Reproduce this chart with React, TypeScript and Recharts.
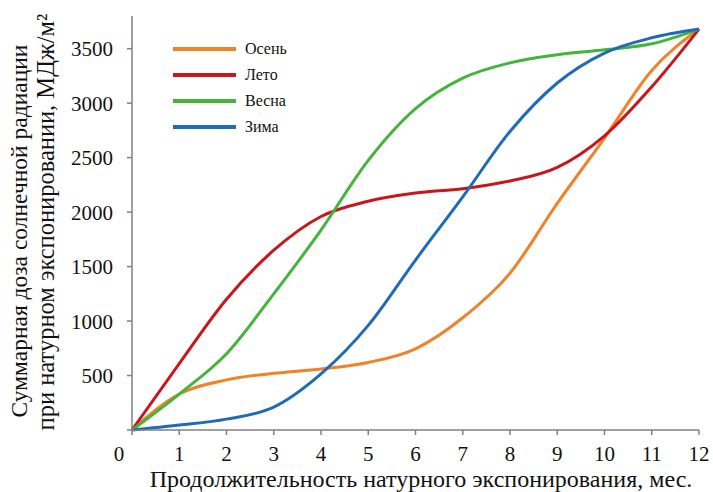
import React from 'react';
import { LineChart, Line, XAxis, YAxis, Legend } from 'recharts';

const months = [0, 1, 2, 3, 4, 5, 6, 7, 8, 9, 10, 11, 12];
const osen = [0, 330, 460, 520, 560, 620, 745, 1030, 1440, 2080, 2680, 3300, 3680];
const leto = [0, 610, 1200, 1650, 1960, 2100, 2175, 2215, 2285, 2410, 2700, 3150, 3680];
const vesna = [0, 330, 700, 1250, 1835, 2475, 2950, 3230, 3370, 3445, 3490, 3545, 3680];
const zima = [0, 45, 100, 210, 515, 960, 1560, 2140, 2740, 3185, 3460, 3600, 3680];

const xTicks = [0, 1, 2, 3, 4, 5, 6, 7, 8, 9, 10, 11, 12];
const yTicks = [0, 500, 1000, 1500, 2000, 2500, 3000, 3500];

const seriesNames = ['Осень', 'Лето', 'Весна', 'Зима'];
const seriesKeys = ['osen', 'leto', 'vesna', 'zima'];
const seriesColors = ['#F0822A', '#C8161D', '#45B43A', '#1E6BB8'];

const data = months.map((m, i) => ({
  m,
  osen: osen[i],
  leto: leto[i],
  vesna: vesna[i],
  zima: zima[i],
}));

const FONT = '"Times New Roman", "Liberation Serif", serif';
const AXIS = '#808080';

const XTick = (props: any) => {
  const { x, y, payload } = props;
  const v = payload.value;
  return (
    <text x={v === 0 ? x - 13 : x} y={y} dy="0.71em" textAnchor="middle" style={{ fontFamily: FONT }} fontSize={21} fill="#111">
      {v}
    </text>
  );
};

const YTick = (props: any) => {
  const { x, y, payload } = props;
  const v = payload.value;
  if (v === 0) return null;
  return (
    <text x={x} y={y} dy="0.355em" textAnchor="end" style={{ fontFamily: FONT }} fontSize={21} fill="#111">
      {v}
    </text>
  );
};

const YLabel = () => (
  <g style={{ fontFamily: FONT }} fill="#111">
    <text x={27} y={231} fontSize={23.5} transform="rotate(-90, 27, 231)" textAnchor="middle">
      Суммарная доза солнечной радиации
    </text>
    <text x={54} y={222} fontSize={24.5} transform="rotate(-90, 54, 222)" textAnchor="middle">
      при натурном экспонировании, МДж/м²
    </text>
  </g>
);

const XLabel = () => (
  <text x={421} y={487} textAnchor="middle" style={{ fontFamily: FONT }} fontSize={24} fill="#111">
    Продолжительность натурного экспонирования, мес.
  </text>
);

const LegendContent = () => (
  <div style={{ fontFamily: FONT, fontSize: 16, color: '#111' }}>
    {seriesNames.map((n, i) => (
      <div key={n} style={{ display: 'flex', alignItems: 'center', height: 26 }}>
        <div style={{ width: 63, height: 4, background: seriesColors[i], marginRight: 9 }} />
        <span>{n}</span>
      </div>
    ))}
  </div>
);

export default function App() {
  return (
    <div style={{ position: 'absolute', left: 0, top: 0, background: '#fff' }}>
      <LineChart width={713} height={492} data={data} margin={{ top: 16, right: 14, bottom: 22, left: 52 }}>
        <XAxis
          dataKey="m"
          type="number"
          domain={[0, 12]}
          ticks={xTicks}
          interval={0}
          height={40}
          stroke={AXIS}
          strokeWidth={1.5}
          tickSize={5}
          tickMargin={11}
          tick={<XTick />}
          label={<XLabel />}
        />
        <YAxis
          type="number"
          domain={[0, 3800]}
          ticks={yTicks}
          interval={0}
          width={80}
          stroke={AXIS}
          strokeWidth={1.5}
          tickSize={5}
          tickMargin={14}
          tick={<YTick />}
          label={<YLabel />}
        />
        <Legend
          verticalAlign="middle"
          align="center"
          layout="horizontal"
          content={<LegendContent />}
          wrapperStyle={{ position: 'absolute', left: 173, top: 36, width: 'auto', height: 'auto' }}
        />
        {seriesKeys.map((k, i) => (
          <Line
            key={k}
            type="monotone"
            dataKey={k}
            name={seriesNames[i]}
            stroke={seriesColors[i]}
            strokeWidth={3}
            dot={false}
            isAnimationActive={false}
          />
        ))}
      </LineChart>
    </div>
  );
}
